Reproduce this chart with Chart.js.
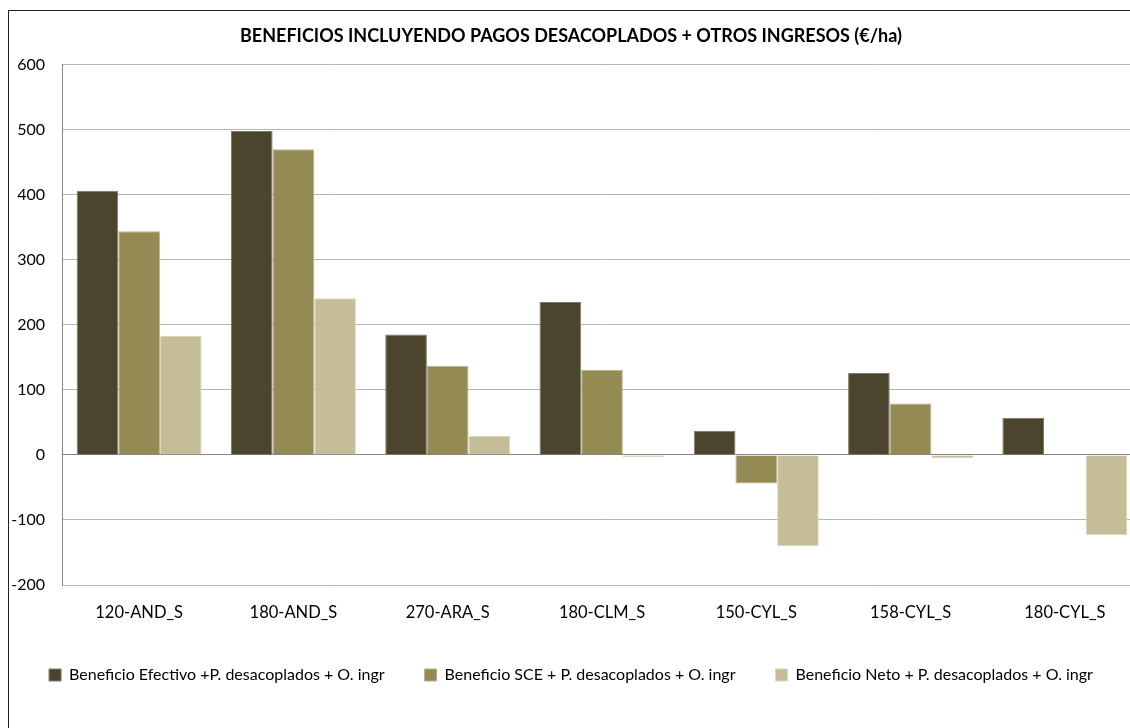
<!DOCTYPE html>
<html>
<head>
<meta charset="utf-8">
<script src="https://cdn.jsdelivr.net/npm/chart.js@4/dist/chart.umd.min.js"></script>
<style>
  html, body { margin: 0; padding: 0; background: #fff; overflow: hidden; }
  #frame { position: absolute; left: 8px; top: 10px; width: 1300px; height: 900px; border: 1px solid #222; }
  #wrap { position: absolute; left: 0; top: 0; width: 1160px; height: 728px; }
</style>
</head>
<body>
<div id="frame"></div>
<div id="wrap"><canvas id="chart"></canvas></div>
<script>
const categories = ['120-AND_S', '180-AND_S', '270-ARA_S', '180-CLM_S', '150-CYL_S', '158-CYL_S', '180-CYL_S'];
const efectivo = [406, 498, 185, 235, 37, 126, 57];
const sce = [344, 470, 137, 131, -44, 79, 1];
const neto = [183, 241, 29, -3.5, -140, -5, -123];
const seriesNames = [
    'Beneficio Efectivo +P. desacoplados + O. ingr',
    'Beneficio SCE + P. desacoplados + O. ingr',
    'Beneficio Neto + P. desacoplados + O. ingr'
];
const yTicks = [-200, -100, 0, 100, 200, 300, 400, 500, 600];

const font = 'Lato, "Open Sans", sans-serif';
Chart.defaults.font.family = font;
Chart.defaults.color = '#000';

const ctx = document.getElementById('chart').getContext('2d');
new Chart(ctx, {
    type: 'bar',
    data: {
        labels: categories,
        datasets: [
            { label: seriesNames[0], data: efectivo, backgroundColor: '#4A452C', borderColor: '#7d7a66', borderWidth: 1 },
            { label: seriesNames[1], data: sce, backgroundColor: '#948A54', borderColor: '#b7b08a', borderWidth: 1 },
            { label: seriesNames[2], data: neto, backgroundColor: '#C4BD97', borderColor: '#dcd7bd', borderWidth: 1 }
        ]
    },
    options: {
        responsive: true,
        maintainAspectRatio: false,
        animation: false,
        datasets: { bar: { categoryPercentage: 0.81, barPercentage: 1 } },
        layout: { padding: { top: 0, right: 18, bottom: 35, left: 0 } },
        plugins: {
            title: {
                display: true,
                text: 'BENEFICIOS INCLUYENDO PAGOS DESACOPLADOS + OTROS INGRESOS (€/ha)',
                font: { size: 18, weight: 'bold' },
                color: '#000',
                padding: { top: 25, bottom: 18 }
            },
            legend: {
                position: 'bottom',
                labels: {
                    boxWidth: 12,
                    boxHeight: 12,
                    padding: 40,
                    font: { size: 16 },
                    color: '#000'
                }
            },
            tooltip: { enabled: false }
        },
        scales: {
            x: {
                grid: { display: false },
                border: { display: false },
                ticks: { font: { size: 16.5 }, padding: 10, color: '#000' },
                afterFit: s => { s.height = 42; }
            },
            y: {
                min: -200,
                max: 600,
                afterBuildTicks: s => { s.ticks = yTicks.map(v => ({ value: v })); },
                afterFit: s => { s.width = 62; },
                ticks: { font: { size: 16 }, padding: 17, color: '#000' },
                grid: {
                    drawTicks: false,
                    color: c => c.tick && c.tick.value === 0 ? '#868686' : '#b5b5b5',
                    lineWidth: 1
                },
                border: { display: true, color: '#868686', width: 1 }
            }
        }
    }
});
</script>
</body>
</html>
